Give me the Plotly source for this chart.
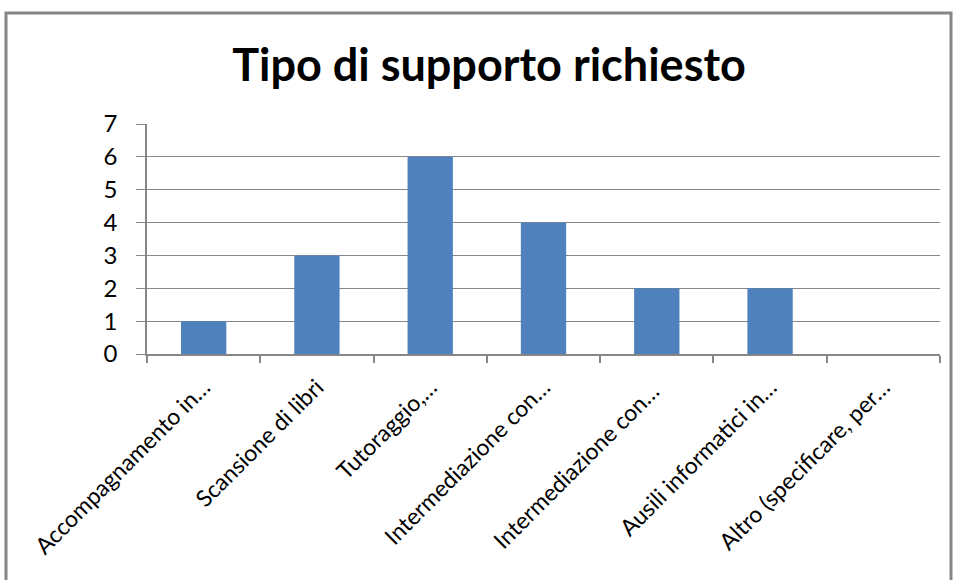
import plotly.graph_objects as go

categories = [
    "Accompagnamento in…",
    "Scansione di libri",
    "Tutoraggio,…",
    "Intermediazione con…",
    "Intermediazione con… ",
    "Ausili informatici in…",
    "Altro (specificare, per…",
]
values = [1, 3, 6, 4, 2, 2, 0]
y_ticks = [0, 1, 2, 3, 4, 5, 6, 7]
title_text = "Tipo di supporto richiesto"

W, H = 956, 580
L, R, T, B = 147, 16, 124, 226
pw = W - L - R
ph = H - T - B

def px_to_paper_x(x):
    return (x - L) / pw

def px_to_paper_y(y):
    return (H - B - y) / ph

fig = go.Figure(
    go.Bar(
        x=categories,
        y=values,
        marker=dict(color="#4F81BD", line=dict(width=0)),
    )
)

fig.update_layout(
    width=W,
    height=H,
    margin=dict(l=L, r=R, t=T, b=B),
    paper_bgcolor="white",
    plot_bgcolor="white",
    bargap=0.6,
    showlegend=False,
    font=dict(family="Lato, Carlito, sans-serif", color="black"),
    title=dict(
        text="<b>" + title_text + "</b>",
        x=489 / W,
        xanchor="center",
        y=1 - 65 / H,
        yanchor="middle",
        font=dict(size=45, family="Lato, sans-serif", color="black"),
    ),
    xaxis=dict(
        type="category",
        tickangle=-45,
        tickfont=dict(size=23),
        showgrid=False,
        showline=True,
        linecolor="#868686",
        linewidth=1.5,
        ticks="outside",
        tickson="boundaries",
        ticklen=7,
        tickcolor="#868686",
        tickwidth=1.5,
        ticklabelstandoff=9,
    ),
    yaxis=dict(
        range=[0, 7],
        tickvals=y_ticks,
        tickfont=dict(size=24),
        showgrid=True,
        gridcolor="#868686",
        gridwidth=1,
        showline=True,
        linecolor="#868686",
        linewidth=1.5,
        ticks="outside",
        ticklen=9,
        tickcolor="#868686",
        zeroline=False,
        ticklabelstandoff=14,
    ),
    shapes=[
        dict(
            type="rect",
            xref="paper",
            yref="paper",
            x0=px_to_paper_x(6),
            x1=px_to_paper_x(951),
            y0=px_to_paper_y(590),
            y1=px_to_paper_y(13),
            line=dict(color="#868686", width=3),
            fillcolor="rgba(0,0,0,0)",
            layer="below",
        )
    ],
)

fig.write_html(
    "out.html",
    config={"displayModeBar": False},
    post_script="document.body.style.margin='0px';document.body.style.overflow='hidden';",
)
